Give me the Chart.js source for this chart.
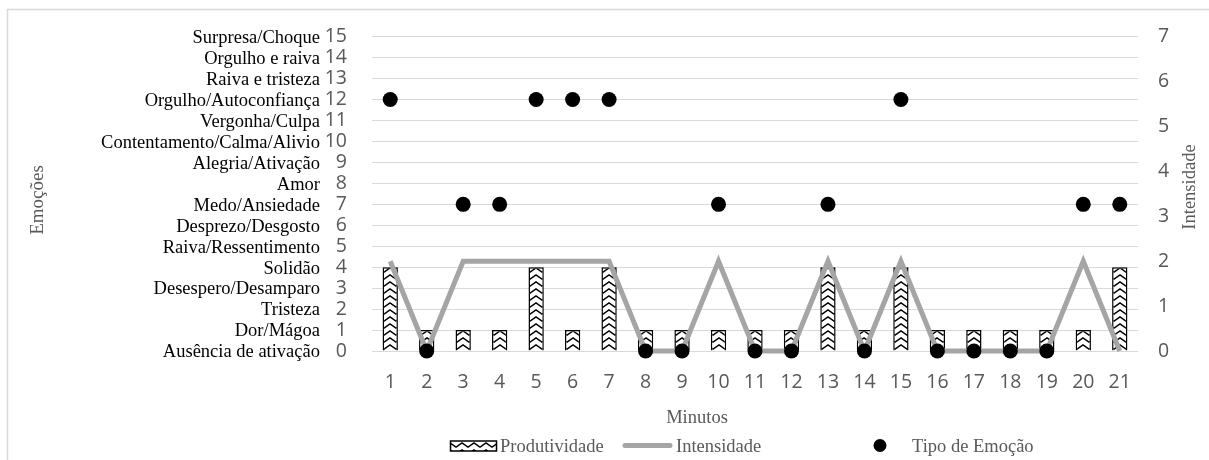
<!DOCTYPE html>
<html>
<head>
<meta charset="utf-8">
<script src="https://cdn.jsdelivr.net/npm/chart.js@4/dist/chart.umd.min.js"></script>
<style>
  html, body { margin: 0; padding: 0; background: #fff; }
  canvas { display: block; }
</style>
</head>
<body>
<canvas id="grafico" width="1209" height="460"></canvas>
<script>
// Minutos observados
const minutos = ['1','2','3','4','5','6','7','8','9','10','11','12','13','14','15','16','17','18','19','20','21'];
// Produtividade (eixo das emoções, 0–15)
const produtividade = [4,1,1,1,4,1,4,1,1,1,1,1,4,1,4,1,1,1,1,1,4];
// Intensidade (eixo secundário, 0–7)
const intensidade = [2,0,2,2,2,2,2,0,0,2,0,0,2,0,2,0,0,0,0,2,0];
// Tipo de emoção (código da escala à esquerda)
const tipoEmocao = [12,0,7,7,12,12,12,0,0,7,0,0,7,0,12,0,0,0,0,7,7];
// Nomes das emoções para cada código 0–15
const emocoes = [
  'Ausência de ativação', 'Dor/Mágoa', 'Tristeza', 'Desespero/Desamparo', 'Solidão',
  'Raiva/Ressentimento', 'Desprezo/Desgosto', 'Medo/Ansiedade', 'Amor', 'Alegria/Ativação',
  'Contentamento/Calma/Alivio', 'Vergonha/Culpa', 'Orgulho/Autoconfiança', 'Raiva e tristeza',
  'Orgulho e raiva', 'Surpresa/Choque'
];
const nomesSeries = ['Produtividade', 'Intensidade', 'Tipo de Emoção'];
const tituloEsquerda = 'Emoções';
const tituloDireita = 'Intensidade';
const tituloX = 'Minutos';

const SERIF = "'Liberation Serif', 'Times New Roman', serif";
const SANS = "'Open Sans', 'Liberation Sans', sans-serif";
const CINZA_TEXTO = '#595959';
const CINZA_LINHA = '#a5a5a5';
const CINZA_GRADE = '#d9d9d9';

const canvas = document.getElementById('grafico');
const ctx = canvas.getContext('2d');

// Ladrilho ziguezague (chevrons) preto e branco das barras
const ladrilho = document.createElement('canvas');
ladrilho.width = 12; ladrilho.height = 7;
(function () {
  const g = ladrilho.getContext('2d');
  g.fillStyle = '#fff';
  g.fillRect(0, 0, 12, 7);
  g.strokeStyle = '#000';
  g.lineWidth = 1.5;
  g.beginPath();
  g.moveTo(-1, 6.8); g.lineTo(6, 2); g.lineTo(13, 6.8);
  g.stroke();
})();

// Padrão alinhado ao centro de cada barra
function padraoEm(xCentro) {
  const p = ctx.createPattern(ladrilho, 'repeat');
  p.setTransform(new DOMMatrix().translate(Math.round(xCentro) - 6, 0));
  return p;
}

const enfeites = {
  id: 'enfeites',
  beforeDraw(chart) {
    const c = chart.ctx;
    c.save();
    c.strokeStyle = CINZA_GRADE;
    c.lineWidth = 1.5;
    c.strokeRect(7.5, 9.5, 1400, 800);
    c.restore();
  },
  afterDraw(chart) {
    const c = chart.ctx;
    const y = chart.scales.y;
    c.save();
    // nomes das emoções ao lado dos números
    c.font = '18.5px ' + SERIF;
    c.fillStyle = '#000';
    c.textAlign = 'right';
    c.textBaseline = 'middle';
    emocoes.forEach((nome, i) => {
      c.fillText(nome, 320, y.getPixelForValue(i) + 1.5);
    });

    // títulos dos eixos
    c.fillStyle = CINZA_TEXTO;
    c.textAlign = 'center';
    c.textBaseline = 'middle';
    c.font = '19px ' + SERIF;
    c.save();
    c.translate(38, 200);
    c.rotate(-Math.PI / 2);
    c.fillText(tituloEsquerda, 0, 0);
    c.restore();
    c.font = '18.5px ' + SERIF;
    c.save();
    c.translate(1190, 187);
    c.rotate(-Math.PI / 2);
    c.fillText(tituloDireita, 0, 0);
    c.restore();
    c.textBaseline = 'alphabetic';
    c.fillText(tituloX, 697, 423);

    // legenda
    const base = 452, meio = 445.5;
    c.textAlign = 'left';
    c.fillStyle = padraoEm(473.5);
    c.fillRect(450, 441, 47, 10);
    c.strokeStyle = '#000';
    c.lineWidth = 1.5;
    c.strokeRect(450.5, 441, 46, 10);
    c.fillStyle = CINZA_TEXTO;
    c.fillText(nomesSeries[0], 500, base);

    c.strokeStyle = CINZA_LINHA;
    c.lineWidth = 5;
    c.lineCap = 'round';
    c.beginPath();
    c.moveTo(625, meio); c.lineTo(670, meio);
    c.stroke();
    c.fillText(nomesSeries[1], 676, base);

    c.fillStyle = '#000';
    c.beginPath();
    c.arc(880, meio, 6.5, 0, Math.PI * 2);
    c.fill();
    c.fillStyle = CINZA_TEXTO;
    c.fillText(nomesSeries[2], 912, base);
    c.restore();
  }
};

new Chart(ctx, {
  type: 'bar',
  data: {
    labels: minutos,
    datasets: [
      {
        type: 'bar',
        label: nomesSeries[0],
        data: produtividade,
        yAxisID: 'y',
        backgroundColor: (cx) => {
          const sx = cx.chart.scales && cx.chart.scales.x;
          if (!sx || cx.dataIndex === undefined) return '#fff';
          return padraoEm(sx.getPixelForValue(cx.dataIndex));
        },
        borderColor: '#000',
        borderWidth: 1.5,
        categoryPercentage: 1,
        barPercentage: 0.42,
        order: 3
      },
      {
        type: 'line',
        label: nomesSeries[1],
        data: intensidade,
        yAxisID: 'y2',
        borderColor: CINZA_LINHA,
        borderWidth: 5,
        pointRadius: 0,
        fill: false,
        tension: 0,
        clip: false,
        order: 2
      },
      {
        type: 'line',
        label: nomesSeries[2],
        data: tipoEmocao,
        yAxisID: 'y',
        showLine: false,
        pointRadius: 7.5,
        pointBorderWidth: 0,
        pointBackgroundColor: '#000',
        pointBorderColor: '#000',
        clip: false,
        order: 1
      }
    ]
  },
  options: {
    responsive: false,
    animation: false,
    devicePixelRatio: 1,
    layout: { padding: { top: 29, left: 0, right: 0, bottom: 0 } },
    plugins: { legend: { display: false }, tooltip: { enabled: false } },
    scales: {
      x: {
        offset: true,
        grid: { display: false, drawTicks: false },
        border: { display: false },
        ticks: { color: CINZA_TEXTO, font: { family: SANS, size: 19.5 }, padding: 20, maxRotation: 0, autoSkip: false },
        afterFit(s) { s.height = 109; }
      },
      y: {
        position: 'left',
        min: 0, max: 15,
        grid: { color: CINZA_GRADE, lineWidth: 1, drawTicks: false },
        border: { display: false },
        ticks: { stepSize: 1, autoSkip: false, color: CINZA_TEXTO, font: { family: SANS, size: 19.5 }, padding: 25 },
        afterFit(s) { s.width = 372; }
      },
      y2: {
        position: 'right',
        min: 0, max: 7,
        grid: { display: false, drawTicks: false },
        border: { display: false },
        ticks: { stepSize: 1, autoSkip: false, color: CINZA_TEXTO, font: { family: SANS, size: 19.5 }, padding: 20 },
        afterFit(s) { s.width = 71; }
      }
    }
  },
  plugins: [enfeites]
});
</script>
</body>
</html>
